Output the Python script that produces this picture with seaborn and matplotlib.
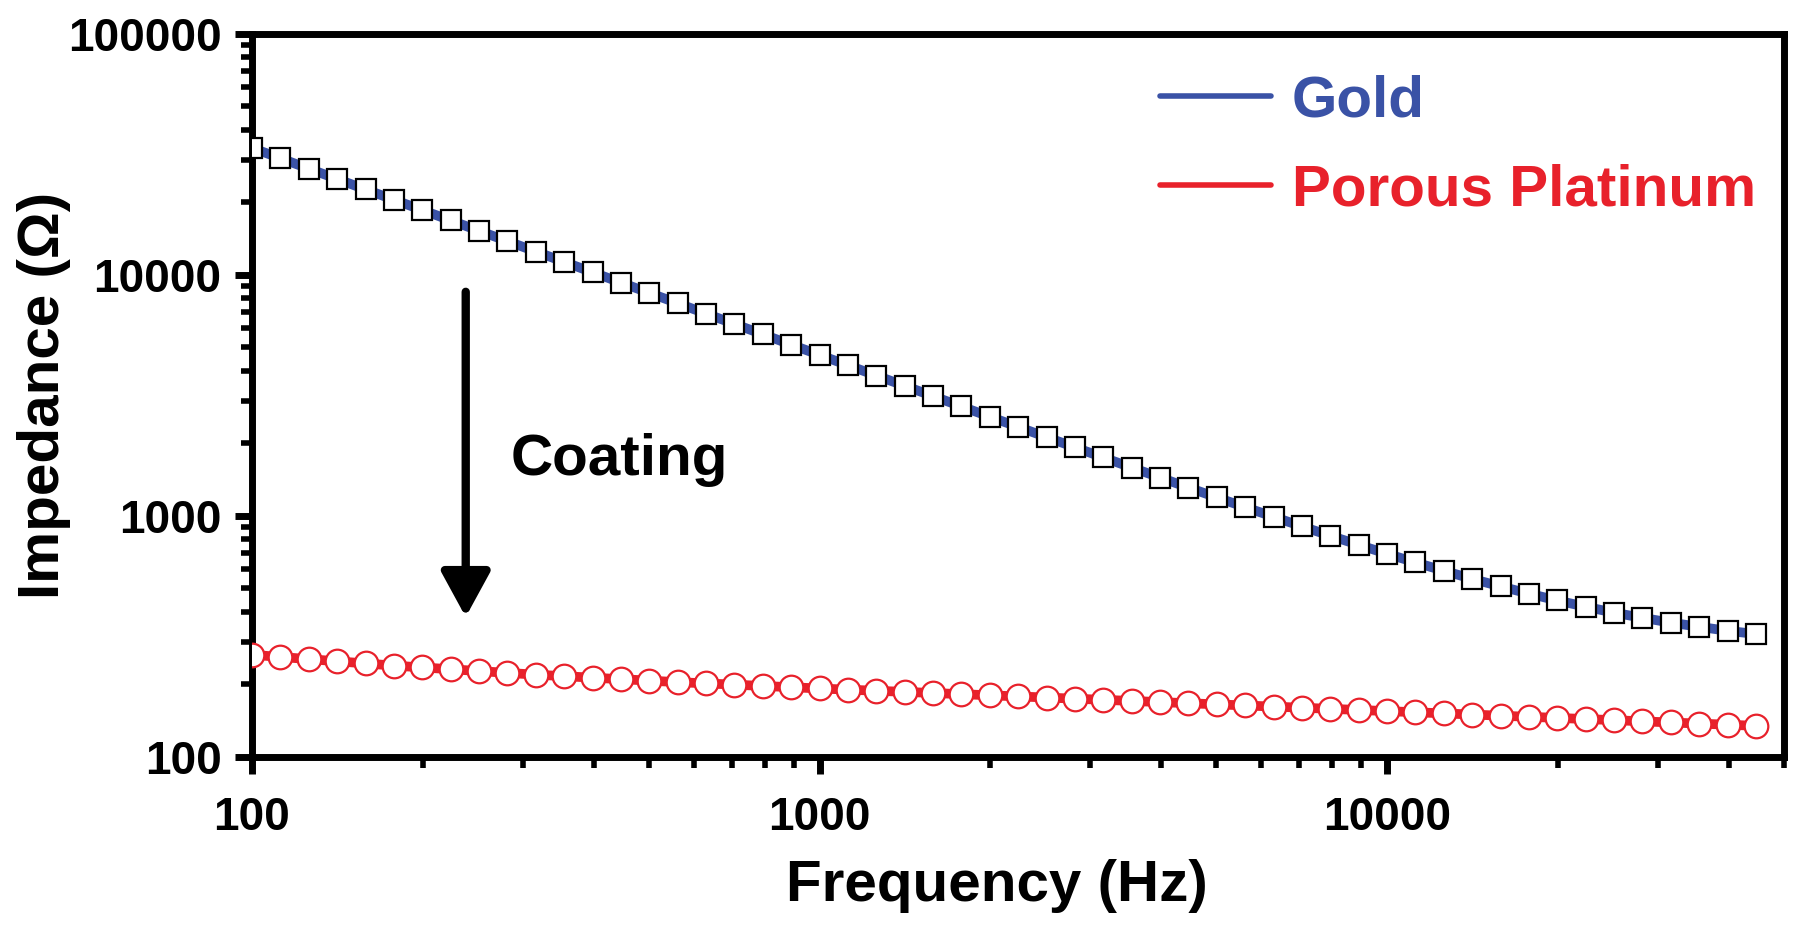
import matplotlib
matplotlib.use('Agg')
import matplotlib.pyplot as plt
import seaborn as sns
import pandas as pd
from matplotlib.lines import Line2D
from matplotlib.ticker import FixedLocator, FuncFormatter, NullFormatter

# Data (20 points per decade)
freq = [100, 112.2, 125.9, 141.3, 158.5, 177.8, 199.5, 223.9, 251.2, 281.8,
        316.2, 354.8, 398.1, 446.7, 501.2, 562.3, 631.0, 707.9, 794.3, 891.3,
        1000, 1122, 1259, 1413, 1585, 1778, 1995, 2239, 2512, 2818,
        3162, 3548, 3981, 4467, 5012, 5623, 6310, 7079, 7943, 8913,
        10000, 11220, 12589, 14125, 15849, 17783, 19953, 22387, 25119, 28184,
        31623, 35481, 39811, 44668]

gold = [33620, 30450, 27570, 24970, 22610, 20490, 18560, 16810, 15220, 13790,
        12490, 11310, 10240, 9284, 8409, 7618, 6900, 6251, 5662, 5130,
        4648, 4212, 3817, 3459, 3135, 2842, 2576, 2337, 2119, 1923,
        1745, 1585, 1441, 1309, 1191, 1085, 990, 903, 826, 757,
        695, 640, 591, 547, 509, 475, 445, 419, 396, 377,
        360, 346, 333, 323]

platinum = [264.9, 259.4, 254.1, 248.9, 243.8, 238.8, 234.7, 230.7, 226.7, 222.8,
            219.0, 215.9, 212.8, 209.8, 206.9, 203.9, 201.5, 199.1, 196.6, 194.3,
            191.9, 189.8, 187.8, 185.8, 183.8, 181.8, 179.8, 177.9, 176.0, 174.1,
            172.2, 170.4, 168.5, 166.7, 164.9, 163.2, 161.4, 159.7, 158.0, 156.3,
            154.6, 152.9, 151.3, 149.6, 148.0, 146.4, 144.9, 143.3, 141.8, 140.2,
            138.7, 137.2, 135.8, 134.3]

series_names = ['Gold', 'Porous Platinum']
x_ticks = [100, 1000, 10000]
y_ticks = [100, 1000, 10000, 100000]

BLUE = '#3a52a6'
RED = '#e8212b'

sns.set_style('ticks')
plt.rcParams['font.family'] = ['Liberation Sans', 'DejaVu Sans']
plt.rcParams['font.weight'] = 'bold'
plt.rcParams['text.color'] = 'black'
plt.rcParams['axes.labelcolor'] = 'black'
plt.rcParams['xtick.color'] = 'black'
plt.rcParams['ytick.color'] = 'black'

df = pd.DataFrame({'freq': freq, 'gold': gold, 'platinum': platinum})

fig = plt.figure(figsize=(18, 9.4), dpi=100)
ax = fig.add_axes([0.140, 0.195, 0.851, 0.769])

sns.lineplot(data=df, x='freq', y='gold', ax=ax, color=BLUE, linewidth=7,
             marker='s', markersize=15, markerfacecolor='white',
             markeredgecolor='black', markeredgewidth=1.6, zorder=3)
sns.lineplot(data=df, x='freq', y='platinum', ax=ax, color=RED, linewidth=7,
             marker='o', markersize=17, markerfacecolor='white',
             markeredgecolor=RED, markeredgewidth=1.6, zorder=3)

ax.set_xscale('log')
ax.set_yscale('log')
ax.set_xlim(100, 50000)
ax.set_ylim(100, 100000)

fmt = FuncFormatter(lambda v, p: '%d' % round(v))
ax.xaxis.set_major_locator(FixedLocator(x_ticks))
ax.xaxis.set_major_formatter(fmt)
ax.yaxis.set_major_locator(FixedLocator(y_ticks))
ax.yaxis.set_major_formatter(fmt)
ax.xaxis.set_minor_formatter(NullFormatter())
ax.yaxis.set_minor_formatter(NullFormatter())

for s in ax.spines.values():
    s.set_linewidth(5)
    s.set_color('black')
ax.tick_params(which='major', direction='out', length=12, width=5,
               labelsize=33, pad=10)
ax.tick_params(which='minor', direction='out', length=8, width=4)
ax.tick_params(axis='x', which='major', pad=16)

ax.set_xlabel('Frequency (Hz)', fontsize=42, fontweight='bold')
ax.set_ylabel('Impedance (Ω)', fontsize=42, fontweight='bold')
ax.xaxis.set_label_coords(0.486, -0.142)
ax.yaxis.set_label_coords(-0.118, 0.5)

# coating arrow and label
ax.annotate('', xy=(238, 380), xytext=(238, 8500),
            arrowprops=dict(arrowstyle='-|>,head_width=0.3,head_length=0.55',
                            lw=6, color='black', mutation_scale=50,
                            shrinkA=0, shrinkB=0))
ax.text(285, 1700, 'Coating', fontsize=42, fontweight='bold',
        va='center', ha='left')

handles = [Line2D([], [], color=BLUE, lw=4),
           Line2D([], [], color=RED, lw=4)]
leg = ax.legend(handles, series_names, loc='upper right',
                bbox_to_anchor=(1.016, 1.016), frameon=False,
                fontsize=42, handlelength=1.9, handletextpad=0.35,
                labelspacing=0.6, labelcolor=[BLUE, RED])
for t in leg.get_texts():
    t.set_fontweight('bold')

fig.savefig('out.png', dpi=100)
